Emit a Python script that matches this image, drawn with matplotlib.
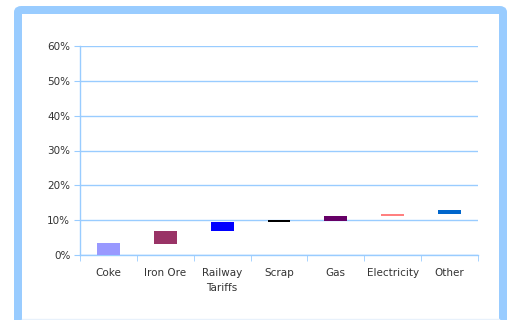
import matplotlib.pyplot as plt
from matplotlib.patches import FancyBboxPatch
from matplotlib.lines import Line2D
from matplotlib.ticker import PercentFormatter

# waterfall steps (percent): bottom and top of each floating bar
categories = ['Coke', 'Iron Ore', 'Railway\nTariffs', 'Scrap', 'Gas', 'Electricity', 'Other']
bottoms = [0.0, 3.3, 7.0, 9.6, 9.9, 11.3, 11.7]
tops = [3.5, 6.9, 9.5, 10.0, 11.3, 11.7, 13.0]
colors = ['#9999FF', '#993366', '#0000FF', '#000000', '#660066', '#FF8080', '#0066CC']

W, H = 509, 320
fig = plt.figure(figsize=(W / 100, H / 100), dpi=100)

# rounded light blue frame around the chart
frame = FancyBboxPatch((18 / W, -10 / H), 485 / W, (H - 10 + 10) / H,
                       boxstyle='round,pad=0,rounding_size=0.007',
                       transform=fig.transFigure, facecolor='white',
                       edgecolor='#99CCFF', linewidth=8 * 72 / 100, zorder=-5)
fig.patches.append(frame)
# faint line at the bottom edge
fig.lines.append(Line2D([22 / W, 499 / W], [1.5 / H, 1.5 / H], transform=fig.transFigure,
                        color='#E8F1FB', linewidth=1, zorder=-4))

ax = fig.add_axes([80 / W, (H - 255) / H, (478 - 80) / W, (255 - 46) / H])
ax.set_zorder(2)
ax.set_facecolor('none')

x = list(range(len(categories)))
heights = [t - b for t, b in zip(tops, bottoms)]
ax.bar(x, heights, bottom=bottoms, width=0.4, color=colors, zorder=3)

ax.set_xlim(-0.5, len(categories) - 0.5)
ax.set_ylim(0, 60)
ax.set_yticks(range(0, 61, 10))
ax.yaxis.set_major_formatter(PercentFormatter(decimals=0))
ax.grid(axis='y', color='#99CCFF', linewidth=1, zorder=1)

ax.set_xticks(x)
ax.set_xticklabels(categories, linespacing=1.7)
ax.set_xticks([i + 0.5 for i in range(-1, len(categories))], minor=True)
ax.tick_params(axis='x', which='major', length=0, pad=9)
ax.tick_params(axis='x', which='minor', length=4, color='#99CCFF', direction='out')
ax.tick_params(axis='y', length=4, color='#99CCFF', pad=3)
ax.tick_params(labelsize=7.5, labelcolor='#333333')

for side in ['top', 'right']:
    ax.spines[side].set_visible(False)
for side in ['left', 'bottom']:
    ax.spines[side].set_color('#99CCFF')
    ax.spines[side].set_linewidth(1)

fig.savefig('out.png', dpi=100)
